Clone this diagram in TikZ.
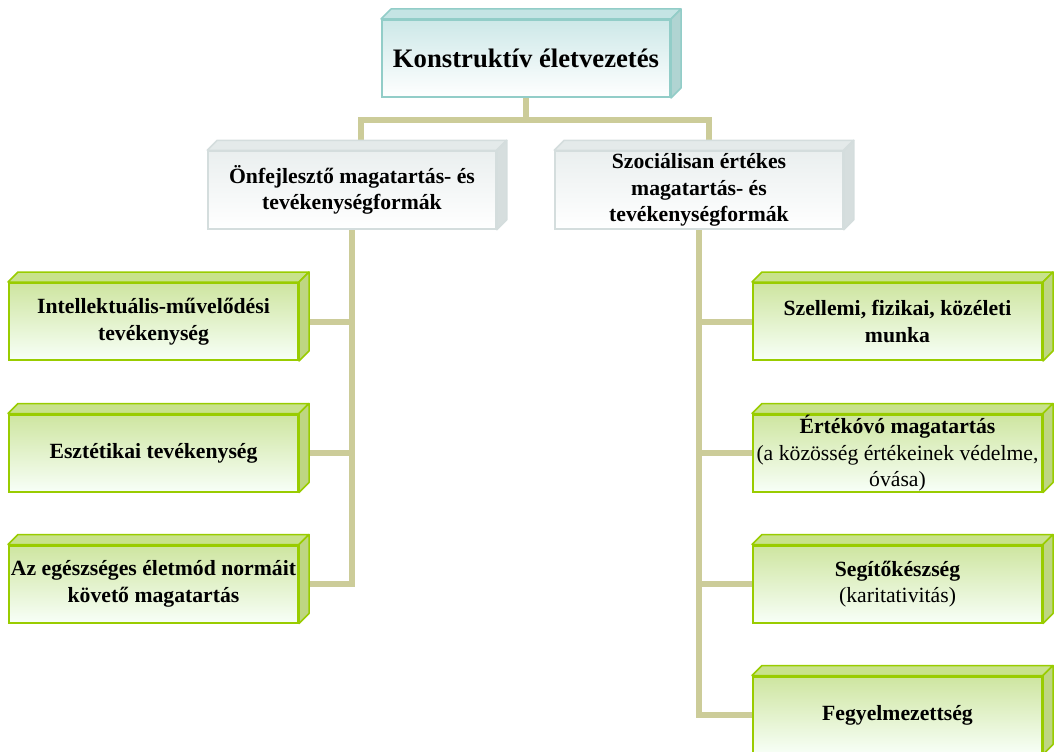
\documentclass[tikz,border=0pt]{standalone}
\usepackage{fontspec}
\setmainfont{Liberation Serif}
\usetikzlibrary{calc}
\pgfdeclarelayer{background}
\pgfsetlayers{background,main}
\definecolor{conncol}{RGB}{204,204,153}
\definecolor{tealbord}{RGB}{146,205,200}
\definecolor{tealtop}{RGB}{205,232,232}
\definecolor{tealface}{RGB}{196,228,228}
\definecolor{tealside}{RGB}{176,212,210}
\definecolor{graybord}{RGB}{212,221,221}
\definecolor{graytop}{RGB}{234,239,239}
\definecolor{grayface}{RGB}{228,234,234}
\definecolor{grayside}{RGB}{214,222,222}
\definecolor{grnbord}{RGB}{153,204,0}
\definecolor{grntop}{RGB}{206,229,160}
\definecolor{grnface}{RGB}{200,226,140}
\definecolor{grnside}{RGB}{190,214,130}
\newcommand{\cubefaces}[4]{%
  \filldraw[fill=#2,draw=#4,line width=1.5pt,line join=round]
    (#1.north west) -- ++(10,-10) -- ($(#1.north east)+(10,-10)$) -- (#1.north east) -- cycle;
  \filldraw[fill=#3,draw=#4,line width=1.5pt,line join=round]
    (#1.north east) -- ++(10,-10) -- ($(#1.south east)+(10,-10)$) -- (#1.south east) -- cycle;
}
\tikzset{
  box/.style={minimum width=289pt, minimum height=77pt, inner sep=0pt, align=center,
    font=\bfseries\fontsize{21.7}{26.5}\selectfont, line width=2pt},
  titlebox/.style={box, minimum width=288pt, font=\bfseries\fontsize{26.7}{31}\selectfont,
    draw=tealbord, top color=tealtop, bottom color=white},
  midbox/.style={box, minimum width=288pt, minimum height=78pt, line width=1.5pt,
    draw=graybord, top color=graytop, bottom color=white},
  leafbox/.style={box, draw=grnbord, top color=grntop, bottom color=white!97!green},
  conn/.style={draw=conncol, line width=6pt, line join=miter}
}
\begin{document}
\begin{tikzpicture}[x=1pt,y=-1pt]
\useasboundingbox (0,0) rectangle (1055,752);
\clip (0,0) rectangle (1055,752);
\node[titlebox] (top) at (526,58.5) {Konstruktív életvezetés};
\cubefaces{top}{tealface}{tealside}{tealbord}
\node[midbox] (L) at (352,190) {Önfejlesztő magatartás- és\\tevékenységformák};
\cubefaces{L}{grayface}{grayside}{graybord}
\node[midbox] (R) at (699,190) {Szociálisan értékes\\magatartás- és\\tevékenységformák};
\cubefaces{R}{grayface}{grayside}{graybord}
\node[leafbox] (l1) at (153.5,321.5) {Intellektuális-művelődési\\tevékenység};
\cubefaces{l1}{grnface}{grnside}{grnbord}
\node[leafbox] (l2) at (153.5,453) {Esztétikai tevékenység};
\cubefaces{l2}{grnface}{grnside}{grnbord}
\node[leafbox] (l3) at (153.5,584) {Az egészséges életmód normáit\\követő magatartás};
\cubefaces{l3}{grnface}{grnside}{grnbord}
\node[leafbox] (r1) at (897.5,321.5) {Szellemi, fizikai, közéleti\\munka};
\cubefaces{r1}{grnface}{grnside}{grnbord}
\node[leafbox] (r2) at (897.5,453) {Értékóvó magatartás\\\mdseries(a közösség értékeinek védelme,\\\mdseries óvása)};
\cubefaces{r2}{grnface}{grnside}{grnbord}
\node[leafbox] (r3) at (897.5,584) {Segítőkészség\\\mdseries(karitativitás)};
\cubefaces{r3}{grnface}{grnside}{grnbord}
\node[leafbox] (r4) at (897.5,715) {Fegyelmezettség};
\cubefaces{r4}{grnface}{grnside}{grnbord}
\begin{pgfonlayer}{background}
  \coordinate (busL) at (361,120);
  \coordinate (busR) at (709,120);
  \draw[conn] (top.south) -- (top.south |- busL);
  \draw[conn] (busL |- L.north) -- (busL) -- (busR) -- (busR |- R.north);
  \draw[conn] (L.south) |- (l3.east);
  \draw[conn] (L.south |- l1.east) -- (l1.east);
  \draw[conn] (L.south |- l2.east) -- (l2.east);
  \draw[conn] (R.south) |- (r4.west);
  \draw[conn] (R.south |- r1.west) -- (r1.west);
  \draw[conn] (R.south |- r2.west) -- (r2.west);
  \draw[conn] (R.south |- r3.west) -- (r3.west);
\end{pgfonlayer}
\end{tikzpicture}
\end{document}
